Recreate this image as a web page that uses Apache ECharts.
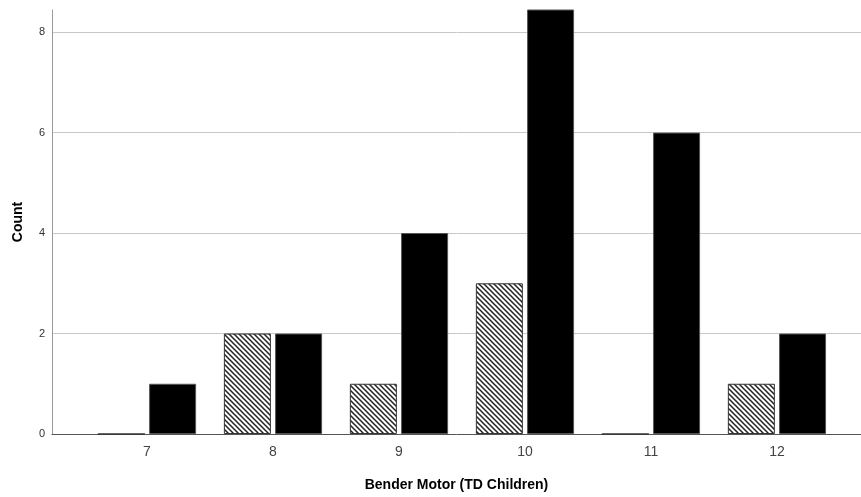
<!DOCTYPE html>
<html>
<head>
    <meta charset="utf-8">
    <title>Bender Motor</title>
    <script src="https://cdn.jsdelivr.net/npm/echarts@6/dist/echarts.min.js"></script>
    <style>
        html, body { margin: 0; padding: 0; background: #fff; }
    </style>
</head>
<body>
    <div id="main" style="width:861px;height:497px;"></div>
    <script type="text/javascript">
        // scores on the x axis and the two count series
        var categories = [7, 8, 9, 10, 11, 12];
        var hatchedCounts = [0, 2, 1, 3, 0, 1];
        var solidCounts = [1, 2, 4, 9, 6, 2];
        var yTicks = [0, 2, 4, 6, 8];

        // diagonal hatch tile for the first series
        function makeHatch() {
            var c = document.createElement('canvas');
            c.width = 5; c.height = 5;
            var ctx = c.getContext('2d');
            ctx.fillStyle = '#fff';
            ctx.fillRect(0, 0, 5, 5);
            ctx.strokeStyle = '#222';
            ctx.lineWidth = 1.5;
            ctx.beginPath();
            ctx.moveTo(-1, -1); ctx.lineTo(6, 6);
            ctx.moveTo(-6, -1); ctx.lineTo(1, 6);
            ctx.moveTo(4, -1); ctx.lineTo(11, 6);
            ctx.stroke();
            return c;
        }

        var myChart = echarts.init(document.getElementById('main'));

        var font = '"Liberation Sans", Arial, sans-serif';

        option = {
            animation: false,
            grid: {left: 52, right: 0, top: 10, bottom: 63},
            xAxis: {
                type: 'value',
                min: 6.246,
                max: 12.667,
                name: 'Bender Motor (TD Children)',
                nameLocation: 'middle',
                nameGap: 44,
                nameTextStyle: {fontFamily: font, fontSize: 14, fontWeight: 'bold', color: '#000'},
                axisLine: {show: true, onZero: false, lineStyle: {color: '#555', width: 1}},
                axisTick: {show: false},
                splitLine: {show: false},
                axisLabel: {
                    customValues: categories,
                    fontFamily: font, fontSize: 14, color: '#444', margin: 11
                }
            },
            yAxis: {
                type: 'value',
                min: 0,
                max: 8.44,
                name: 'Count',
                nameLocation: 'middle',
                nameGap: 27,
                nameTextStyle: {fontFamily: font, fontSize: 14, fontWeight: 'bold', color: '#000'},
                axisLine: {show: true, lineStyle: {color: '#999', width: 1}},
                axisTick: {show: false, customValues: yTicks},
                splitLine: {show: true, lineStyle: {color: '#c8c8c8', width: 1}},
                axisLabel: {
                    customValues: yTicks,
                    fontFamily: font, fontSize: 11, color: '#333', margin: 7
                }
            },
            series: [
                {
                    type: 'bar',
                    barWidth: 47,
                    barGap: '9%',
                    data: categories.map(function (c, i) { return [c, hatchedCounts[i]]; }),
                    itemStyle: {
                        color: {image: makeHatch(), repeat: 'repeat'},
                        borderColor: '#333',
                        borderWidth: 1
                    }
                },
                {
                    type: 'bar',
                    barWidth: 47,
                    barGap: '9%',
                    data: categories.map(function (c, i) { return [c, solidCounts[i]]; }),
                    itemStyle: {
                        color: '#000',
                        borderColor: '#555',
                        borderWidth: 1
                    }
                }
            ]
        };

        myChart.setOption(option);
    </script>
</body>
</html>
